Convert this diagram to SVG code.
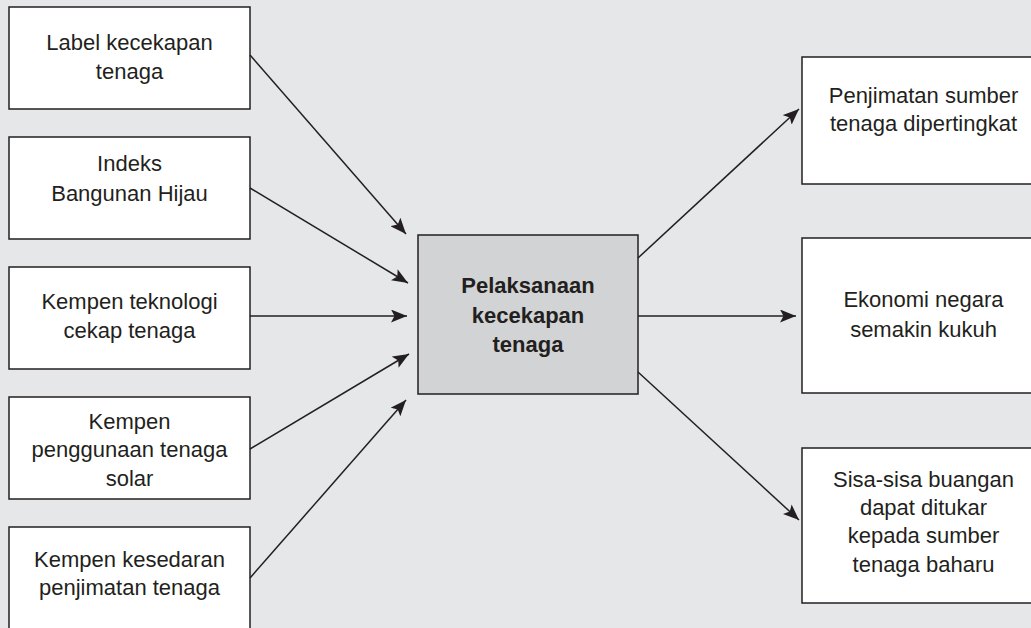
<svg xmlns="http://www.w3.org/2000/svg" width="1031" height="628" viewBox="0 0 1031 628">
  <style>
    .box { fill: #ffffff; stroke: #231f20; stroke-width: 1.5; }
    .core { fill: #d1d3d4; stroke: #231f20; stroke-width: 1.5; }
    .lbl { font-family: "Liberation Sans", Arial, sans-serif; font-size: 22px; fill: #231f20; text-anchor: middle; }
    .bold { font-weight: bold; }
    .link { stroke: #231f20; stroke-width: 1.5; fill: none; marker-end: url(#head); }
  </style>
  <defs>
    <marker id="head" markerUnits="userSpaceOnUse" markerWidth="17" markerHeight="13" refX="16" refY="6.5" orient="auto">
      <path d="M0,0 L16,6.5 L0,13 L3.5,6.5 Z" fill="#231f20"/>
    </marker>
  </defs>

  <rect x="0" y="0" width="1031" height="628" fill="#e6e7e8"/>

  <!-- causes (left column) -->
  <g id="label-kecekapan">
    <rect class="box" x="9" y="7" width="241" height="102"/>
    <text class="lbl" x="129.5" y="50">Label kecekapan</text>
    <text class="lbl" x="129.5" y="79">tenaga</text>
  </g>
  <g id="indeks-bangunan">
    <rect class="box" x="9" y="137" width="241" height="102"/>
    <text class="lbl" x="129.5" y="171">Indeks</text>
    <text class="lbl" x="129.5" y="201">Bangunan Hijau</text>
  </g>
  <g id="kempen-teknologi">
    <rect class="box" x="9" y="267" width="241" height="102"/>
    <text class="lbl" x="129.5" y="309">Kempen teknologi</text>
    <text class="lbl" x="129.5" y="338">cekap tenaga</text>
  </g>
  <g id="kempen-solar">
    <rect class="box" x="9" y="397" width="241" height="102"/>
    <text class="lbl" x="129.5" y="429">Kempen</text>
    <text class="lbl" x="129.5" y="457">penggunaan tenaga</text>
    <text class="lbl" x="129.5" y="486">solar</text>
  </g>
  <g id="kempen-kesedaran">
    <rect class="box" x="9" y="527" width="241" height="120"/>
    <text class="lbl" x="129.5" y="567">Kempen kesedaran</text>
    <text class="lbl" x="129.5" y="595">penjimatan tenaga</text>
  </g>

  <!-- central node -->
  <g id="pelaksanaan">
    <rect class="core" x="418" y="235" width="220" height="159"/>
    <text class="lbl bold" x="528" y="293">Pelaksanaan</text>
    <text class="lbl bold" x="528" y="323">kecekapan</text>
    <text class="lbl bold" x="528" y="352">tenaga</text>
  </g>

  <!-- effects (right column) -->
  <g id="penjimatan-sumber">
    <rect class="box" x="802" y="57" width="243" height="127"/>
    <text class="lbl" x="923.5" y="103">Penjimatan sumber</text>
    <text class="lbl" x="923.5" y="131">tenaga dipertingkat</text>
  </g>
  <g id="ekonomi-negara">
    <rect class="box" x="802" y="238" width="243" height="155"/>
    <text class="lbl" x="923.5" y="307">Ekonomi negara</text>
    <text class="lbl" x="923.5" y="337">semakin kukuh</text>
  </g>
  <g id="sisa-buangan">
    <rect class="box" x="802" y="448" width="243" height="155"/>
    <text class="lbl" x="923.5" y="487">Sisa-sisa buangan</text>
    <text class="lbl" x="923.5" y="515">dapat ditukar</text>
    <text class="lbl" x="923.5" y="543">kepada sumber</text>
    <text class="lbl" x="923.5" y="572">tenaga baharu</text>
  </g>

  <!-- connectors -->
  <g id="connectors">
    <line class="link" x1="250" y1="55" x2="406" y2="234"/>
    <line class="link" x1="250" y1="188" x2="408" y2="283"/>
    <line class="link" x1="250" y1="316" x2="407" y2="316"/>
    <line class="link" x1="250" y1="449" x2="409" y2="354"/>
    <line class="link" x1="250" y1="578" x2="406" y2="400"/>
    <line class="link" x1="638" y1="258" x2="799" y2="109"/>
    <line class="link" x1="638" y1="316" x2="796" y2="316"/>
    <line class="link" x1="638" y1="372" x2="799" y2="520"/>
  </g>
</svg>
